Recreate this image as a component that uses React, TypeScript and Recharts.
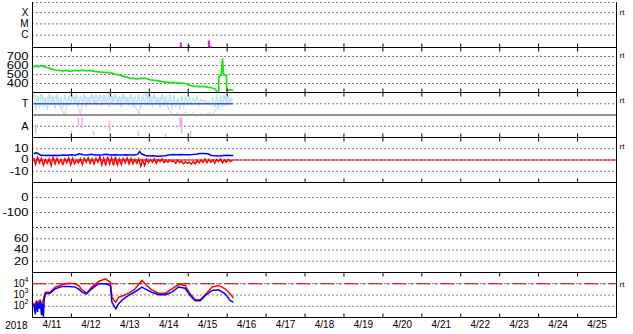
import React from 'react';
import { LineChart, Line, XAxis, YAxis, CartesianGrid, ReferenceLine } from 'recharts';

const FONT = '"Liberation Sans", Arial, Helvetica, sans-serif';

// time axis: days since 2018-04-11 00:00 UT
const yearLabel = '2018';
const dayLabels = ['4/11', '4/12', '4/13', '4/14', '4/15', '4/16', '4/17', '4/18', '4/19', '4/20', '4/21', '4/22', '4/23', '4/24', '4/25'];
const dayEdges = [1, 2, 3, 4, 5, 6, 7, 8, 9, 10, 11, 12, 13, 14];
const dayMids = [0.5, 1.5, 2.5, 3.5, 4.5, 5.5, 6.5, 7.5, 8.5, 9.5, 10.5, 11.5, 12.5, 13.5, 14.5];

// panel 1: flare class (log units, C=1 M=2 X=3)
const flareTicks = [1, 2, 3];
const flareNames = ['C', 'M', 'X'];
const flareBase = -0.1;
const flareTimes = [3.03, 3.81, 4.02, 4.53, 4.57];
const flareLevels = [-0.02, 0.34, 0.1, 0.52, 0.05];

// panel 2: solar wind speed
const speedTimes = [0.03, 0.08, 0.15, 0.23, 0.31, 0.39, 0.46, 0.57, 0.67, 0.77, 0.87, 0.98, 1.08, 1.18, 1.28, 1.39, 1.49, 1.59, 1.7, 1.8, 1.9, 2.0, 2.11, 2.21, 2.31, 2.41, 2.52, 2.62, 2.72, 2.83, 2.93, 3.03, 3.13, 3.24, 3.34, 3.44, 3.54, 3.65, 3.75, 3.85, 3.96, 4.06, 4.16, 4.26, 4.37, 4.47, 4.57, 4.65, 4.7, 4.74, 4.78, 4.79, 4.85, 4.88, 4.91, 4.98, 4.99, 5.09, 5.16];
const speedValues = [580, 595, 585, 600, 585, 575, 565, 550, 545, 540, 545, 535, 545, 540, 548, 540, 545, 535, 530, 525, 520, 520, 505, 495, 485, 470, 460, 455, 450, 460, 455, 440, 435, 430, 420, 415, 410, 410, 405, 405, 395, 375, 370, 365, 368, 362, 355, 345, 335, 305, 305, 485, 490, 680, 495, 490, 330, 330, 325];
const speedTicks = [400, 500, 600, 700];

// panel 3: T / A
const sampleStart = 0.03;
const sampleStep = 0.05;
const cyanValues = [
  3.85, 2.5, 3.7, 2.6, 3.9, 2.7, 3.6, 2.45, 3.8, 2.9, 3.75, 2.55, 3.9, 2.8, 3.6, 2.6, 3.85, 2.7, 3.7, 2.9,
  3.8, 3.0, 3.9, 2.8, 3.7, 3.1, 3.85, 2.7, 3.6, 3.0, 3.8, 2.9, 3.9, 3.2, 3.7, 2.8, 3.85, 3.0, 3.6, 2.7,
  3.8, 3.1, 3.9, 2.9, 3.7, 2.6, 3.85, 3.0, 3.6, 2.8, 3.9, 2.7, 3.75, 2.9, 3.85, 2.6, 3.7, 3.0, 3.9, 2.8,
  3.8, 2.7, 3.9, 2.9, 3.6, 2.6, 3.85, 2.8, 3.7, 3.0, 3.9, 2.5, 3.75, 2.7, 3.6, 2.45, 3.8, 2.6, 3.7, 2.9,
  3.6, 3.0, 3.5, 3.1, 3.7, 2.9, 3.4, 3.2, 3.3, 3.0, 3.2, 2.9, 3.6, 2.6, 3.8, 2.5, 3.7, 2.7, 3.9, 2.8,
  3.7, 3.0, 3.5,
];
const graySampleStep = 0.1;
const grayValues = [
  3.9, 3.3, 3.85, 3.0, 3.9, 3.2, 3.8, 2.6, 2.0, 3.6,
  3.9, 3.1, 2.1, 3.8, 3.2, 3.9, 3.0, 3.85, 3.3, 3.9,
  3.1, 3.8, 2.9, 3.9, 3.2, 3.85, 2.8, 2.1, 3.7, 3.9,
  3.2, 3.8, 2.9, 3.85, 3.1, 2.3, 2.0, 2.2, 1.9, 2.3,
  2.0, 2.2, 1.9, 2.1, 1.95, 2.2, 2.0, 2.6, 3.4, 3.8,
  3.1, 3.6,
];
const levelTicks = [1, 3];
const levelNames = ['A', 'T'];
const levelT = 3;
const levelMid = 2;
const levelTSpan = [0.03, 5.14];
const pinkTimes = [0.085, 1.18, 1.27, 1.98, 3.79, 3.83];
const pinkLow = [0.36, 1.05, 0.8, 0.47, 0.98, 0.36];
const pinkHigh = [1.16, 1.78, 1.78, 1.5, 1.78, 1.78];
const dimTimes = [1.0, 1.57, 2.72, 3.42, 4.06];
const dimLow = [0.2, 0.2, 0.1, 0.05, 0.05];
const dimHigh = [0.6, 0.6, 0.6, 0.35, 0.6];

// panel 4: field components
const blueTimes = [0.03, 0.1, 0.2, 0.3, 0.4, 0.5, 0.6, 0.7, 0.8, 0.9, 1.0, 1.1, 1.2, 1.3, 1.4, 1.5, 1.6, 1.7, 1.8, 1.9, 2.0, 2.1, 2.2, 2.3, 2.4, 2.5, 2.6, 2.7, 2.75, 2.8, 2.9, 3.0, 3.1, 3.2, 3.3, 3.4, 3.5, 3.6, 3.7, 3.8, 3.9, 4.0, 4.1, 4.2, 4.3, 4.4, 4.5, 4.6, 4.7, 4.8, 4.9, 5.0, 5.1, 5.16];
const blueValues = [5.5, 6.5, 4.5, 4.0, 4.3, 4.0, 4.2, 4.0, 4.4, 4.3, 4.6, 4.3, 5.5, 4.6, 4.4, 5.0, 4.5, 4.4, 4.6, 5.2, 4.5, 4.6, 4.5, 4.4, 4.6, 4.4, 4.5, 5.0, 7.5, 5.5, 4.0, 3.6, 3.8, 3.4, 3.6, 3.8, 4.4, 4.8, 4.6, 4.8, 4.6, 4.7, 4.8, 5.2, 5.8, 5.8, 5.5, 4.0, 3.8, 3.6, 4.0, 4.2, 4.1, 4.1];
const redValues = [
  2, -4, 2.5, -2.5, 1.5, -4.5, 0.5, -3, 1, -5,
  2.5, -3.5, 1.5, -3, 0.5, -4, 1, -2.5, 2, -4.5,
  1.5, -3.5, 0, -2.5, 1, -4, 1.5, -2, 2, -3,
  1, -3.5, 1.5, -2, 3, -4.5, 1.5, -5, 3, -3.5,
  2, -5, 3, -4.5, 1, -4, 1.5, -2.5, 2, -3.5,
  1.5, -3.5, 0.5, -3, 1, -5.5, 0, -5, 1, -2.5,
  0.5, -2, 1, -3, 0.5, -1.5, 1, -2.5, -0.5, -2,
  0, -1.5, -0.5, -3, 0, -2.5, -1, -3.5, -1.5, -3,
  -2, -3.8, -1.5, -3.5, -0.5, -2.5, 0, -2, 1, -2.5,
  0.5, -2, 0, -3, 0.5, -1.5, 1, -2.5, 0, -2,
  0.5, -1.5, -0.5,
];
const fieldTicks = [-10, 0, 10];

// panel 5 / 6
const panel5Ticks = [-100, 0];
const panel6Ticks = [20, 40, 60];

// panel 7: electron flux (log10)
const elecTimes = [0.03, 0.07, 0.1, 0.13, 0.15, 0.18, 0.2, 0.23, 0.26, 0.28, 0.3, 0.33, 0.45, 0.58, 0.75, 0.92, 1.1, 1.2, 1.27, 1.39, 1.52, 1.7, 1.87, 2.0, 2.04, 2.1, 2.14, 2.21, 2.34, 2.47, 2.64, 2.81, 2.89, 3.06, 3.24, 3.41, 3.58, 3.75, 3.92, 4.05, 4.18, 4.31, 4.44, 4.61, 4.78, 4.95, 5.08, 5.16];
const elecBlue = [2.2, 1.3, 2.4, 1.5, 2.3, 1.8, 2.5, 1.2, 2.2, 1.0, 2.6, 3.1, 3.16, 3.55, 3.76, 3.76, 3.7, 3.5, 3.25, 3.1, 3.55, 4.0, 4.0, 3.85, 2.36, 2.0, 1.77, 2.22, 2.66, 2.96, 3.31, 3.7, 3.55, 3.25, 3.02, 3.02, 3.25, 3.7, 3.6, 2.96, 2.5, 2.5, 2.96, 3.4, 3.46, 3.1, 2.5, 2.36];
const elecRed = [2.3, 1.9, 2.5, 2.0, 2.4, 2.2, 2.6, 1.9, 2.4, 2.6, 2.9, 3.25, 3.25, 3.7, 3.9, 4.05, 4.0, 3.8, 3.46, 3.16, 3.7, 4.2, 4.44, 4.14, 2.8, 2.5, 2.36, 2.8, 2.96, 3.16, 3.55, 4.29, 4.0, 3.46, 3.16, 3.16, 3.55, 3.93, 3.85, 3.1, 2.57, 2.57, 3.04, 3.7, 3.85, 3.55, 3.1, 2.72];
const elecTicks = [2, 3, 4];
const elecThreshold = 4;

// right-hand "rt" marks per panel
const rtLevels = [3, 720, 3.35, 12, 3.93];

const rows = (times: number[], values: number[]) => times.map((t, i) => ({ t, v: values[i] }));
const sampled = (values: number[], step: number) => values.map((v, i) => ({ t: sampleStart + i * step, v }));
// vertical strokes from a base value, separated by gaps
const strokes = (times: number[], lows: number[], highs: number[]) =>
  times.flatMap((t, i) => [{ t, v: lows[i] }, { t, v: highs[i] }, { t, v: null }]);

const flareRows = strokes(flareTimes, flareTimes.map(() => flareBase), flareLevels);
const speedRows = rows(speedTimes, speedValues);
const cyanRows = sampled(cyanValues, sampleStep);
const grayRows = sampled(grayValues, graySampleStep);
const pinkRows = strokes(pinkTimes, pinkLow, pinkHigh);
const dimRows = strokes(dimTimes, dimLow, dimHigh);
const blueRows = rows(blueTimes, blueValues);
const redRows = sampled(redValues, sampleStep);
const elecBlueRows = rows(elecTimes, elecBlue);
const elecRedRows = rows(elecTimes, elecRed);

const blank = () => <g />;

// squat, wide labels like the original bitmap font
const makeTick = (label: (v: number) => string, size: number, sx: number) => (p: any) => (
  <g transform={`translate(${p.x},${p.y})`}>
    <text transform={`scale(${sx},1)`} textAnchor="end" dy="0.33em" fontSize={size} fill="#000" fontFamily={FONT}>
      {label(p.payload.value)}
    </text>
  </g>
);
const numTick = makeTick((v) => String(v), 10, 1.3);

const PowTick = (p: any) => (
  <text x={p.x} y={p.y} textAnchor="end" fill="#000" fontFamily={FONT}>
    <tspan fontSize={10} dy={3}>10</tspan>
    <tspan fontSize={7} dy={-5}>{p.payload.value}</tspan>
  </text>
);

type PanelProps = {
  top: number;
  domain: [number, number];
  ticks: number[];
  tick?: any;
  rt?: number;
  hideTop?: boolean;
  last?: boolean;
  children?: React.ReactNode;
};

const ids = { xAxisId: 'b', yAxisId: 'l' };

function Panel({ top, domain, ticks, tick, rt, hideTop, last, children }: PanelProps) {
  const height = last ? 0.5 + 45 + 16.5 : 46;
  const [lo, hi] = domain;
  const tickLen = ((hi - lo) * 4) / 45;
  return (
    <div style={{ position: 'absolute', left: 0, top }}>
      <LineChart width={633} height={height} margin={{ top: 0.5, right: 0.5, bottom: last ? 0 : 0.5, left: 0.5 }}>
        {last ? (
          <XAxis
            xAxisId="b"
            type="number"
            dataKey="t"
            domain={[0, 15]}
            ticks={dayMids}
            interval={0}
            height={16.5}
            tickLine={false}
            axisLine={false}
            tickSize={0}
            tickMargin={3}
            tickFormatter={(v: number) => dayLabels[Math.floor(v)]}
            tick={{ fill: '#000', fontSize: 10, fontFamily: FONT }}
            label={{ value: yearLabel, position: 'left', offset: 5, fill: '#000', fontSize: 10, fontFamily: FONT }}
          />
        ) : (
          <XAxis xAxisId="b" type="number" dataKey="t" domain={[0, 15]} ticks={dayEdges} interval={0} height={0} tick={blank} tickLine={false} axisLine={false} />
        )}
        <XAxis xAxisId="g" type="number" dataKey="t" domain={[0, 15]} ticks={dayEdges} interval={0} height={0} orientation="top" tick={blank} tickLine={false} axisLine={false} />
        <YAxis
          yAxisId="l"
          type="number"
          domain={domain}
          ticks={ticks}
          interval={0}
          width={32}
          tickLine={false}
          tickSize={0}
          tickMargin={4}
          tick={tick || numTick}
          stroke="#000"
          allowDataOverflow
        />
        <YAxis
          yAxisId="r"
          orientation="right"
          type="number"
          domain={domain}
          ticks={rt === undefined ? [] : [rt]}
          interval={0}
          width={16}
          tickLine={false}
          tickSize={0}
          tickMargin={3}
          tickFormatter={() => 'rt'}
          tick={{ fill: '#000', fontSize: 8, fontFamily: FONT }}
          stroke="#000"
          allowDataOverflow
        />
        <CartesianGrid xAxisId="g" yAxisId="l" stroke="#000" strokeDasharray="1 3" />
        {children}
        {/* panel frame and day ticks on the frame */}
        {!hideTop && <ReferenceLine {...ids} y={hi} stroke="#000" strokeWidth={1} ifOverflow="visible" />}
        <ReferenceLine {...ids} y={lo} stroke="#000" strokeWidth={1} ifOverflow="visible" />
        {dayEdges.map((d) => (
          <ReferenceLine key={'tb' + d} {...ids} segment={[{ x: d, y: lo }, { x: d, y: lo + tickLen }]} stroke="#000" ifOverflow="visible" />
        ))}
        {!hideTop &&
          dayEdges.map((d) => (
            <ReferenceLine key={'tt' + d} {...ids} segment={[{ x: d, y: hi - tickLen }, { x: d, y: hi }]} stroke="#000" ifOverflow="visible" />
          ))}
      </LineChart>
    </div>
  );
}

export default function App() {
  return (
    <div style={{ position: 'absolute', left: 0, top: 0, width: 633, height: 334, background: '#fff', overflow: 'hidden' }}>
      <Panel top={2} domain={[flareBase, 3.9]} ticks={flareTicks} tick={makeTick((v) => flareNames[flareTicks.indexOf(v)], 10, 1)} rt={rtLevels[0]} hideTop>
        <Line {...ids} data={flareRows} dataKey="v" stroke="#ff00ff" strokeWidth={2} dot={false} connectNulls={false} isAnimationActive={false} />
      </Panel>

      <Panel top={47} domain={[300, 800]} ticks={speedTicks} rt={rtLevels[1]}>
        <Line {...ids} data={speedRows} dataKey="v" stroke="#18e418" strokeWidth={1.7} dot={false} isAnimationActive={false} />
      </Panel>

      <Panel top={92} domain={[0, 4]} ticks={levelTicks} tick={makeTick((v) => levelNames[levelTicks.indexOf(v)], 11, 1)} rt={rtLevels[2]}>
        <Line {...ids} data={dimRows} dataKey="v" stroke="#cccccc" strokeWidth={1.5} dot={false} connectNulls={false} isAnimationActive={false} />
        <Line {...ids} data={grayRows} dataKey="v" stroke="#cfcfcf" strokeWidth={1} dot={false} isAnimationActive={false} />
        <Line {...ids} data={cyanRows} dataKey="v" stroke="#b0e6fa" strokeWidth={1.2} dot={false} isAnimationActive={false} />
        <ReferenceLine {...ids} y={levelMid} stroke="#707070" strokeWidth={1.3} />
        <ReferenceLine {...ids} segment={[{ x: levelTSpan[0], y: levelT }, { x: levelTSpan[1], y: levelT }]} stroke="#4a55e8" strokeWidth={1.3} />
        <Line {...ids} data={pinkRows} dataKey="v" stroke="#f2a6f0" strokeWidth={1.5} dot={false} connectNulls={false} isAnimationActive={false} />
      </Panel>

      <Panel top={137} domain={[-20, 20]} ticks={fieldTicks} rt={rtLevels[3]}>
        <ReferenceLine {...ids} y={0} stroke="#e00000" strokeWidth={1.2} />
        <Line {...ids} data={redRows} dataKey="v" stroke="#ff0000" strokeWidth={1.4} dot={false} isAnimationActive={false} />
        <Line {...ids} data={blueRows} dataKey="v" stroke="#0000ff" strokeWidth={1.5} dot={false} isAnimationActive={false} />
      </Panel>

      <Panel top={182} domain={[-200, 100]} ticks={panel5Ticks}>
        <ReferenceLine {...ids} y={0} stroke="#b40000" strokeWidth={1.2} />
      </Panel>

      <Panel top={227} domain={[0, 80]} ticks={panel6Ticks} />

      <Panel top={272} domain={[1, 5]} ticks={elecTicks} tick={PowTick} rt={rtLevels[4]} last>
        <ReferenceLine {...ids} y={elecThreshold} stroke="#c00000" strokeWidth={1.2} strokeDasharray="14 4 2 4" />
        <Line {...ids} data={elecRedRows} dataKey="v" stroke="#ff0000" strokeWidth={1.5} dot={false} isAnimationActive={false} />
        <Line {...ids} data={elecBlueRows} dataKey="v" stroke="#0000ff" strokeWidth={1.5} dot={false} isAnimationActive={false} />
      </Panel>
    </div>
  );
}
